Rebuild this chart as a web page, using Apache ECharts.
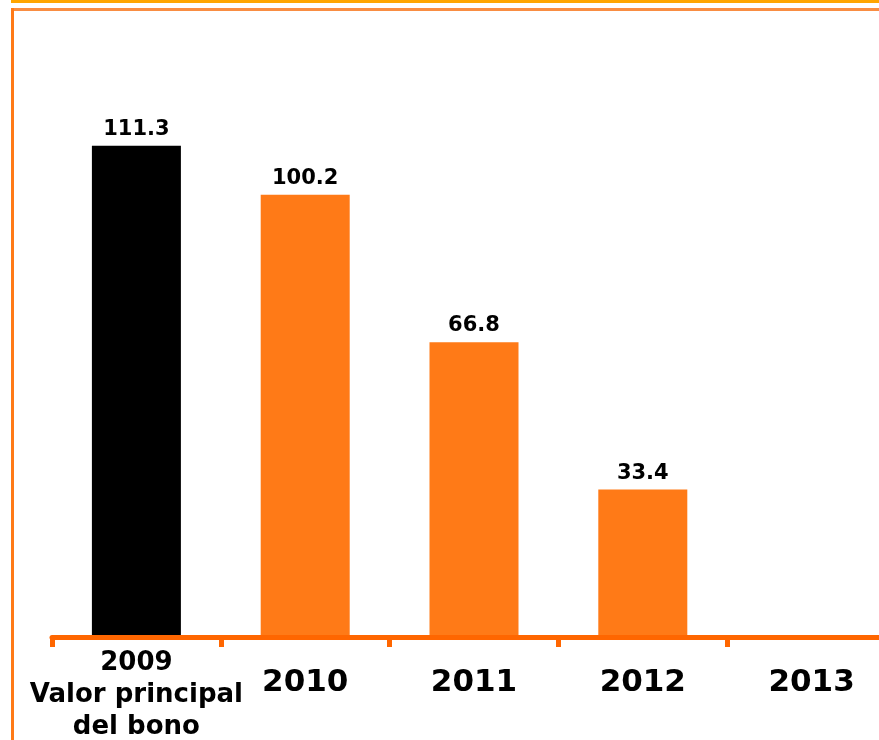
<!DOCTYPE html>
<html>
<head>
<meta charset="utf-8">
<title>Valor principal del bono</title>
<script src="https://cdn.jsdelivr.net/npm/echarts@6/dist/echarts.min.js"></script>
<style>
	* { margin: 0; padding: 0; }
	html, body { width: 100%; height: 100%; background: #fff; overflow: hidden; }
	/* el grafico sigue un poco mas alla del borde derecho */
	#main { width: 896px; height: 740px; }
</style>
</head>
<body>
<div id="main"></div>
<script type="text/javascript">
	// datos
	var years = ['2009', '2010', '2011', '2012', '2013'];
	var subTitle = ['Valor principal', 'del bono'];
	var values = [111.3, 100.2, 66.8, 33.4, 0];
	var barColors = ['#000000', '#FF7A17', '#FF7A17', '#FF7A17', '#FF7A17'];

	var FONT = '"DejaVu Sans", Verdana, sans-serif';

	var barData = [];
	for (var i = 0; i < values.length; i++) {
		barData.push({ value: values[i], itemStyle: { color: barColors[i] } });
	}

	var myChart = echarts.init(document.getElementById('main'));

	var option = {
		backgroundColor: '#fff',
		animation: false,
		grid: {
			top: 19,
			left: 52,
			right: 0,
			bottom: 102
		},
		// marco naranja
		graphic: [
			{ type: 'rect', silent: true, shape: { x: 11, y: 0, width: 885, height: 3 }, style: { fill: '#FFA500' } },
			{ type: 'rect', silent: true, shape: { x: 11, y: 8, width: 885, height: 3 }, style: { fill: '#F98D42' } },
			{ type: 'rect', silent: true, shape: { x: 11, y: 8, width: 3, height: 732 }, style: { fill: '#FF7A17' } }
		],
		xAxis: {
			type: 'category',
			data: years,
			z: 3,
			axisLine: { lineStyle: { color: '#FF6600', width: 5 } },
			axisTick: {
				show: true,
				length: 10,
				alignWithLabel: false,
				lineStyle: { color: '#FF6600', width: 5 }
			},
			axisLabel: {
				interval: 0,
				margin: 10,
				hideOverlap: false,
				formatter: function (value, index) {
					if (index == 0) {
						return '{a|' + value + '}\n{a|' + subTitle[0] + '}\n{a|' + subTitle[1] + '}';
					}
					return '{b|' + value + '}';
				},
				rich: {
					a: { fontFamily: FONT, fontWeight: 'bold', fontSize: 26, lineHeight: 32, color: '#000' },
					b: { fontFamily: FONT, fontWeight: 'bold', fontSize: 31, lineHeight: 72, color: '#000' }
				}
			}
		},
		yAxis: {
			type: 'value',
			min: 0,
			max: 140,
			show: false
		},
		series: [{
			type: 'bar',
			data: barData,
			barWidth: 89,
			label: {
				show: true,
				position: 'top',
				distance: 6,
				fontFamily: FONT,
				fontWeight: 'bold',
				fontSize: 21,
				color: '#000',
				formatter: function (p) {
					return p.value ? p.value.toFixed(1) : '';
				}
			}
		}]
	};

	myChart.setOption(option);
</script>
</body>
</html>
